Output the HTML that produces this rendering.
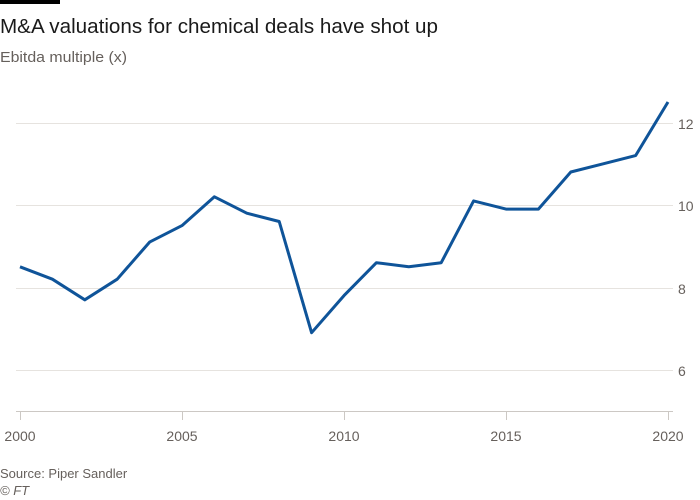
<!DOCTYPE html>
<html><head><style>
body{margin:0;background:#fff}
svg{display:block;font-family:"Liberation Sans",sans-serif}
</style></head><body>
<svg width="700" height="500" viewBox="0 0 700 500">
<rect x="0" y="0" width="60" height="4" fill="#000"/>
<text x="0" y="33" font-size="20" fill="#1a1a1a" textLength="438" lengthAdjust="spacingAndGlyphs">M&amp;A valuations for chemical deals have shot up</text>
<text x="0" y="62" font-size="15" fill="#66605c" textLength="127" lengthAdjust="spacingAndGlyphs">Ebitda multiple (x)</text>
<g stroke="#e6e3df" stroke-width="1">
<line x1="16" x2="673" y1="123.5" y2="123.5"/>
<line x1="16" x2="673" y1="205.5" y2="205.5"/>
<line x1="16" x2="673" y1="288.5" y2="288.5"/>
<line x1="16" x2="673" y1="370.5" y2="370.5"/>
</g>
<g stroke="#ccc8c4" stroke-width="1">
<line x1="16" x2="673" y1="411.5" y2="411.5"/>
<line x1="20.5" x2="20.5" y1="411" y2="420"/>
<line x1="182.5" x2="182.5" y1="411" y2="420"/>
<line x1="344.5" x2="344.5" y1="411" y2="420"/>
<line x1="506.5" x2="506.5" y1="411" y2="420"/>
<line x1="668.5" x2="668.5" y1="411" y2="420"/>
</g>
<g font-size="14" fill="#66605c">
<text x="678" y="129">12</text>
<text x="678" y="211">10</text>
<text x="678" y="294">8</text>
<text x="678" y="376">6</text>
<text x="20" y="441" text-anchor="middle">2000</text>
<text x="182" y="441" text-anchor="middle">2005</text>
<text x="344" y="441" text-anchor="middle">2010</text>
<text x="506" y="441" text-anchor="middle">2015</text>
<text x="668" y="441" text-anchor="middle">2020</text>
</g>
<polyline fill="none" stroke="#0f5499" stroke-width="3" stroke-linejoin="round"
points="20,266.8 52.4,279.2 84.8,299.8 117.2,279.2 149.6,242.1 182,225.6 214.4,196.8 246.8,213.2 279.2,221.5 311.6,332.7 344,295.6 376.4,262.7 408.8,266.8 441.2,262.7 473.6,200.9 506,209.1 538.4,209.1 570.8,172.0 603.2,163.8 635.6,155.6 668,102"/>
<text x="0" y="478" font-size="13" fill="#66605c">Source: Piper Sandler</text>
<text x="0" y="495" font-size="13" fill="#66605c" font-style="italic">© FT</text>
</svg>
</body></html>
